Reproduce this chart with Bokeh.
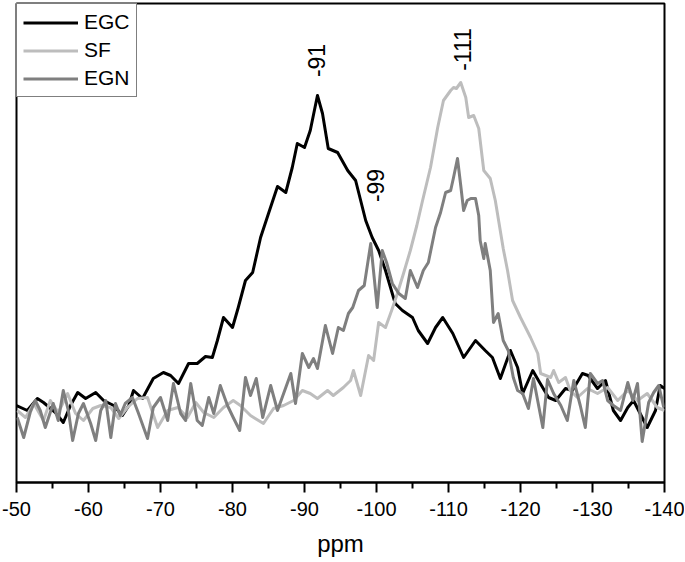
import math
from bokeh.plotting import figure
from bokeh.models import Range1d, FixedTicker, Legend, LegendItem
from bokeh.core.properties import value
from bokeh.embed import file_html
from bokeh.resources import INLINE

# ---- data ----
egc_ppm = [-50.0, -51.5, -52.9, -53.75, -55.4, -56.5, -57.5, -58.5, -59.6, -61.0,
           -62.1, -63.5, -64.7, -65.6, -66.25, -67.5, -69.0, -70.4, -71.4, -72.5,
           -73.9, -75.1, -76.25, -77.2, -77.9, -78.75, -80.0, -80.8, -81.8, -82.8,
           -83.9, -85.0, -86.25, -87.4, -88.3, -89.0, -90.0, -90.8, -91.8, -92.5,
           -93.3, -94.6, -96.0, -97.1, -98.5, -99.4, -100.3, -101.25, -102.6, -103.6,
           -105.0, -105.8, -107.1, -108.2, -109.2, -110.6, -112.1, -113.75, -115.1, -116.1,
           -117.2, -118.6, -119.6, -120.3, -121.7, -122.5, -123.9, -124.9, -126.25, -127.2,
           -128.6, -129.4, -130.7, -131.8, -132.9, -133.9, -134.9, -135.7, -137.6, -138.75,
           -139.4, -140.0]
egc_int = [77, 72, 84, 80, 70, 60, 77, 90, 84, 90,
           82, 77, 67, 77, 92, 84, 104, 110, 107, 99,
           119, 119, 126, 125, 142, 165, 155, 175, 202, 210,
           245, 269, 296, 290, 315, 339, 335, 352, 387, 369,
           334, 330, 312, 302, 262, 245, 232, 212, 179, 172,
           165, 152, 139, 155, 165, 149, 125, 142, 132, 125,
           104, 132, 115, 89, 112, 102, 85, 82, 94, 92,
           109, 107, 94, 102, 72, 62, 75, 82, 55, 72,
           97, 94]

sf_ppm = [-50.1, -51.25, -52.4, -53.75, -54.7, -55.8, -57.1, -58.2, -59.3, -60.6,
          -61.7, -63.1, -64.2, -65.4, -66.8, -68.2, -69.6, -71.0, -72.4, -73.75,
          -74.9, -76.0, -77.4, -78.75, -80.1, -81.1, -82.5, -84.3, -85.7, -87.1,
          -88.5, -89.7, -90.8, -91.8, -93.2, -94.0, -95.4, -96.4, -96.8, -97.8,
          -98.9, -99.6, -100.3, -101.25, -102.1, -102.9, -103.75, -104.7, -105.6, -106.4,
          -107.5, -108.5, -109.3, -110.3, -110.7, -111.1, -111.7, -112.4, -112.8, -113.5,
          -114.2, -114.9, -115.8, -116.5, -117.6, -118.2, -118.9, -120.0, -121.4, -122.4,
          -122.8, -124.2, -124.6, -125.3, -126.25, -126.9, -127.9, -129.3, -130.7, -132.1,
          -133.5, -134.9, -136.25, -137.6, -139.0, -140.0]
sf_int = [72, 65, 79, 62, 82, 70, 89, 69, 62, 74,
          77, 75, 64, 75, 84, 85, 55, 72, 75, 65,
          80, 70, 65, 75, 82, 77, 67, 59, 74, 77,
          82, 92, 89, 84, 92, 87, 95, 102, 112, 87,
          127, 122, 160, 155, 172, 189, 209, 232, 257, 282,
          315, 355, 382, 392, 395, 394, 400, 385, 365, 367,
          354, 312, 304, 282, 234, 212, 182, 165, 145, 129,
          109, 105, 112, 100, 105, 92, 85, 94, 89, 95,
          82, 92, 82, 89, 75, 72]

egn_ppm = [-50.1, -51.0, -51.9, -52.6, -53.3, -54.0, -55.1, -55.8, -56.5, -57.2,
           -57.8, -58.6, -59.3, -60.3, -61.0, -61.7, -62.4, -63.1, -63.75, -64.4,
           -65.1, -66.1, -66.9, -68.2, -69.0, -70.0, -71.0, -71.8, -72.8, -73.5,
           -74.2, -75.1, -75.8, -76.7, -77.4, -78.3, -79.3, -80.1, -81.0, -81.8,
           -82.5, -83.3, -84.2, -85.3, -86.25, -86.9, -88.1, -88.75, -89.7, -90.6,
           -91.25, -91.8, -92.9, -93.9, -94.7, -95.4, -96.1, -96.7, -97.5, -98.3,
           -99.2, -100.1, -100.8, -101.4, -102.2, -103.1, -104.0, -104.7, -105.7, -106.5,
           -107.2, -108.2, -108.9, -109.6, -110.3, -110.7, -111.25, -111.7, -112.1, -112.6,
           -113.1, -113.75, -114.2, -114.4, -114.9, -115.1, -115.8, -116.25, -116.9, -117.6,
           -118.3, -119.0, -119.6, -120.3, -121.1, -121.8, -123.1, -123.75, -124.6, -125.6,
           -126.5, -127.4, -128.3, -129.0, -129.7, -130.7, -131.4, -132.1, -132.9, -133.9,
           -134.9, -135.6, -136.25, -136.9, -137.8, -138.5, -139.2, -139.9]
egn_int = [65, 45, 70, 82, 72, 55, 79, 62, 92, 72,
           42, 69, 79, 59, 42, 72, 82, 45, 79, 67,
           79, 85, 70, 44, 75, 85, 62, 99, 69, 62,
           99, 62, 57, 85, 69, 97, 77, 65, 52, 105,
           87, 104, 65, 97, 72, 85, 109, 79, 129, 115,
           124, 114, 157, 129, 155, 152, 169, 175, 192, 197,
           239, 175, 232, 220, 199, 189, 184, 212, 195, 212,
           220, 255, 270, 290, 292, 305, 324, 297, 272, 282,
           284, 284, 267, 242, 224, 239, 212, 160, 169, 142,
           132, 105, 92, 89, 74, 104, 55, 103, 89, 77,
           62, 102, 77, 55, 109, 99, 102, 82, 77, 72,
           100, 82, 99, 41, 80, 90, 97, 75]

series_names = ["EGC", "SF", "EGN"]
x_ticks = [-50, -60, -70, -80, -90, -100, -110, -120, -130, -140]
x_minor = [-55, -65, -75, -85, -95, -105, -115, -125, -135]
tick_labels = ["-50", "-60", "-70", "-80", "-90", "-100", "-110", "-120", "-130", "-140"]

ann_text = ["-91", "-99", "-111"]
ann_x = [-91.6, -99.9, -112.0]
ann_y = [422, 297, 433]

FONT = "Liberation Sans"

p = figure(width=684, height=559,
           x_range=Range1d(-50, -140), y_range=Range1d(0, 479),
           output_backend="svg", toolbar_location=None,
           min_border_left=16, min_border_right=20,
           min_border_top=3, min_border_bottom=77)

p.grid.visible = False
p.yaxis.visible = False
p.outline_line_color = "black"
p.outline_line_width = 2
p.background_fill_color = "white"
p.border_fill_color = "white"

ax = p.xaxis[0]
ax.ticker = FixedTicker(ticks=x_ticks, minor_ticks=x_minor)
ax.major_label_overrides = {t: l for t, l in zip(x_ticks, tick_labels)}
ax.axis_line_width = 2
ax.axis_line_color = "black"
ax.major_tick_in = 0
ax.major_tick_out = 10
ax.minor_tick_in = 0
ax.minor_tick_out = 6
ax.major_tick_line_width = 2
ax.minor_tick_line_width = 2
ax.major_tick_line_color = "black"
ax.minor_tick_line_color = "black"
ax.major_label_text_font = FONT
ax.major_label_text_font_size = "20px"
ax.major_label_text_color = "black"
ax.major_label_standoff = 9
ax.axis_label = "ppm"
ax.axis_label_text_font = FONT
ax.axis_label_text_font_size = "24px"
ax.axis_label_text_font_style = "normal"
ax.axis_label_text_color = "black"
ax.axis_label_standoff = 11

r_egc = p.line(egc_ppm, egc_int, line_color="black", line_width=3, line_join="round")
r_sf = p.line(sf_ppm, sf_int, line_color="#bdbdbd", line_width=3, line_join="round")
r_egn = p.line(egn_ppm, egn_int, line_color="#7f7f7f", line_width=3, line_join="round")

p.text(x=ann_x, y=ann_y, text=ann_text, angle=math.pi / 2,
       text_align="center", text_baseline="middle",
       text_font=value(FONT), text_font_size="23px", text_color="black")

legend = Legend(items=[LegendItem(label=n, renderers=[r])
                       for n, r in zip(series_names, [r_egc, r_sf, r_egn])],
                location="top_left", margin=0, padding=6, spacing=4,
                glyph_width=55, glyph_height=23, label_height=23,
                label_standoff=6, label_text_font=FONT,
                label_text_font_size="21px", label_text_color="black",
                border_line_color="black", border_line_width=1,
                background_fill_color="white", background_fill_alpha=1)
p.add_layout(legend)

open("out.html", "w").write(file_html(p, INLINE))
